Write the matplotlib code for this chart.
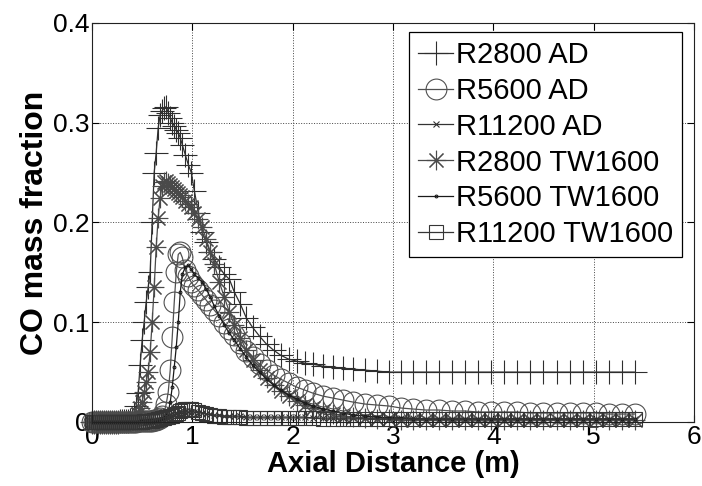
import matplotlib
matplotlib.use("Agg")
import matplotlib.pyplot as plt

plt.rcParams['font.family'] = ['Liberation Sans', 'DejaVu Sans']

# shared axial grid (m)
x_axial = [0.00, 0.02, 0.04, 0.06, 0.08, 0.10, 0.12, 0.14, 0.16, 0.18,
           0.20, 0.22, 0.24, 0.26, 0.28, 0.30, 0.32, 0.34, 0.36, 0.38,
           0.40, 0.42, 0.44, 0.46, 0.48, 0.50, 0.52, 0.54, 0.56, 0.58,
           0.60, 0.62, 0.64, 0.66, 0.68, 0.70, 0.72, 0.74, 0.76, 0.78,
           0.80, 0.82, 0.84, 0.86, 0.88, 0.90, 0.93, 0.96, 0.99, 1.02,
           1.06, 1.10, 1.14, 1.18, 1.22, 1.27, 1.32, 1.37, 1.42, 1.48,
           1.54, 1.60, 1.67, 1.74, 1.81, 1.88, 1.96, 2.04, 2.12, 2.20,
           2.30, 2.40, 2.50, 2.60, 2.72, 2.84, 2.96, 3.08, 3.20, 3.33,
           3.46, 3.59, 3.72, 3.85, 3.98, 4.11, 4.24, 4.37, 4.50, 4.63,
           4.76, 4.89, 5.02, 5.15, 5.28, 5.41]

r2800_ad = [0.000, 0.000, 0.000, 0.000, 0.000, 0.000, 0.000, 0.000, 0.000, 0.000,
            0.000, 0.000, 0.000, 0.000, 0.001, 0.001, 0.001, 0.001, 0.001, 0.002,
            0.003, 0.008, 0.016, 0.029, 0.057, 0.082, 0.100, 0.120, 0.135, 0.150,
            0.200, 0.250, 0.270, 0.295, 0.308, 0.312, 0.315, 0.316, 0.310, 0.305,
            0.300, 0.297, 0.293, 0.290, 0.285, 0.278, 0.268, 0.258, 0.250, 0.232,
            0.210, 0.190, 0.180, 0.170, 0.163, 0.155, 0.148, 0.143, 0.130, 0.118,
            0.104, 0.095, 0.086, 0.078, 0.072, 0.067, 0.063, 0.061, 0.059, 0.058,
            0.056, 0.055, 0.054, 0.053, 0.052, 0.051, 0.050, 0.050, 0.050, 0.050,
            0.050, 0.050, 0.050, 0.050, 0.050, 0.050, 0.050, 0.050, 0.050, 0.050,
            0.050, 0.050, 0.050, 0.050, 0.050, 0.050]

r5600_ad = [0.000, 0.000, 0.000, 0.000, 0.000, 0.000, 0.000, 0.000, 0.000, 0.000,
            0.000, 0.000, 0.000, 0.000, 0.000, 0.000, 0.000, 0.000, 0.000, 0.000,
            0.000, 0.000, 0.000, 0.001, 0.001, 0.001, 0.001, 0.001, 0.001, 0.001,
            0.001, 0.002, 0.002, 0.003, 0.004, 0.006, 0.010, 0.018, 0.030, 0.052,
            0.085, 0.120, 0.150, 0.168, 0.170, 0.165, 0.152, 0.146, 0.140, 0.136,
            0.132, 0.127, 0.122, 0.117, 0.112, 0.106, 0.099, 0.093, 0.087, 0.079,
            0.071, 0.065, 0.058, 0.052, 0.047, 0.043, 0.039, 0.035, 0.032, 0.029,
            0.026, 0.024, 0.022, 0.020, 0.018, 0.017, 0.016, 0.014, 0.013, 0.012,
            0.012, 0.011, 0.011, 0.010, 0.010, 0.010, 0.010, 0.009, 0.009, 0.009,
            0.009, 0.009, 0.009, 0.008, 0.008, 0.008]

r11200_ad = [0.000, 0.000, 0.000, 0.000, 0.000, 0.000, 0.000, 0.000, 0.000, 0.000,
             0.000, 0.000, 0.000, 0.000, 0.000, 0.000, 0.000, 0.000, 0.000, 0.000,
             0.000, 0.000, 0.000, 0.000, 0.000, 0.000, 0.000, 0.000, 0.000, 0.001,
             0.001, 0.001, 0.001, 0.001, 0.002, 0.002, 0.002, 0.003, 0.004, 0.005,
             0.006, 0.007, 0.008, 0.008, 0.009, 0.009, 0.010, 0.010, 0.010, 0.010,
             0.009, 0.009, 0.008, 0.008, 0.007, 0.007, 0.006, 0.006, 0.006, 0.006,
             0.005, 0.005, 0.005, 0.005, 0.005, 0.005, 0.005, 0.005, 0.005, 0.004,
             0.004, 0.004, 0.004, 0.004, 0.004, 0.004, 0.004, 0.004, 0.004, 0.003,
             0.003, 0.003, 0.003, 0.003, 0.003, 0.003, 0.003, 0.003, 0.003, 0.003,
             0.003, 0.003, 0.003, 0.003, 0.003, 0.003]

r2800_tw1600 = [0.000, 0.000, 0.000, 0.000, 0.000, 0.000, 0.000, 0.000, 0.000, 0.000,
                0.000, 0.000, 0.000, 0.000, 0.000, 0.001, 0.001, 0.001, 0.001, 0.001,
                0.002, 0.003, 0.004, 0.008, 0.014, 0.020, 0.030, 0.040, 0.050, 0.070,
                0.100, 0.135, 0.175, 0.205, 0.225, 0.237, 0.241, 0.242, 0.240, 0.238,
                0.236, 0.234, 0.232, 0.230, 0.228, 0.226, 0.222, 0.219, 0.216, 0.210,
                0.203, 0.195, 0.183, 0.170, 0.158, 0.140, 0.125, 0.110, 0.097, 0.084,
                0.072, 0.062, 0.052, 0.044, 0.037, 0.031, 0.026, 0.021, 0.017, 0.014,
                0.011, 0.008, 0.006, 0.005, 0.004, 0.003, 0.003, 0.002, 0.002, 0.002,
                0.002, 0.002, 0.002, 0.002, 0.002, 0.002, 0.002, 0.002, 0.002, 0.002,
                0.002, 0.002, 0.002, 0.002, 0.002, 0.002]

r5600_tw1600 = [0.000, 0.000, 0.000, 0.000, 0.000, 0.000, 0.000, 0.000, 0.000, 0.000,
                0.000, 0.000, 0.000, 0.000, 0.000, 0.000, 0.000, 0.000, 0.000, 0.000,
                0.000, 0.000, 0.000, 0.000, 0.001, 0.001, 0.001, 0.001, 0.001, 0.001,
                0.001, 0.001, 0.002, 0.002, 0.003, 0.004, 0.005, 0.007, 0.010, 0.020,
                0.035, 0.055, 0.075, 0.100, 0.130, 0.148, 0.155, 0.157, 0.153, 0.148,
                0.144, 0.140, 0.133, 0.125, 0.116, 0.106, 0.097, 0.089, 0.082, 0.073,
                0.065, 0.057, 0.050, 0.043, 0.037, 0.032, 0.027, 0.023, 0.019, 0.016,
                0.013, 0.011, 0.009, 0.007, 0.006, 0.005, 0.004, 0.004, 0.003, 0.003,
                0.003, 0.003, 0.003, 0.003, 0.003, 0.003, 0.003, 0.003, 0.003, 0.003,
                0.003, 0.003, 0.003, 0.003, 0.003, 0.003]

r11200_tw1600 = [0.000, 0.000, 0.000, 0.000, 0.000, 0.000, 0.000, 0.000, 0.000, 0.000,
                 0.000, 0.000, 0.000, 0.000, 0.000, 0.000, 0.000, 0.000, 0.000, 0.000,
                 0.000, 0.000, 0.000, 0.000, 0.000, 0.000, 0.001, 0.001, 0.001, 0.001,
                 0.001, 0.002, 0.002, 0.003, 0.003, 0.004, 0.004, 0.005, 0.005, 0.006,
                 0.006, 0.007, 0.008, 0.009, 0.011, 0.012, 0.013, 0.013, 0.013, 0.012,
                 0.010, 0.009, 0.008, 0.007, 0.006, 0.006, 0.005, 0.005, 0.005, 0.005,
                 0.004, 0.004, 0.004, 0.004, 0.004, 0.004, 0.004, 0.004, 0.004, 0.004,
                 0.003, 0.003, 0.003, 0.003, 0.003, 0.003, 0.003, 0.003, 0.003, 0.003,
                 0.003, 0.003, 0.003, 0.003, 0.003, 0.003, 0.003, 0.003, 0.003, 0.003,
                 0.003, 0.003, 0.003, 0.003, 0.003, 0.003]

labels = ['R2800 AD', 'R5600 AD', 'R11200 AD',
          'R2800 TW1600', 'R5600 TW1600', 'R11200 TW1600']
series = [r2800_ad, r5600_ad, r11200_ad, r2800_tw1600, r5600_tw1600, r11200_tw1600]
markers = ['+', 'o', 'x', (8, 2, 0), '.', 's']
msizes = [17, 15, 5, 14, 4, 10]
colors = ['#2e2e2e', '#505050', '#333333', '#4a4a4a', '#1a1a1a', '#353535']

fig = plt.figure(figsize=(7.02, 4.86), dpi=100)
ax = fig.add_axes([0.131, 0.1317, 0.8576, 0.821])

for y, lab, m, ms, c in zip(series, labels, markers, msizes, colors):
    ax.plot(x_axial, y, marker=m, markersize=ms, color=c, linewidth=0.9,
            markerfacecolor='none', markeredgecolor=c, markeredgewidth=0.8,
            label=lab, clip_on=False)

ax.set_xlim(0, 6)
ax.set_ylim(0, 0.4)
ax.set_xticks([0, 1, 2, 3, 4, 5, 6])
ax.set_yticks([0, 0.1, 0.2, 0.3, 0.4])
ax.set_xticklabels(['0', '1', '2', '3', '4', '5', '6'])
ax.set_yticklabels(['0', '0.1', '0.2', '0.3', '0.4'])
ax.tick_params(direction='in', length=5, width=0.8, top=True, right=True,
               labelsize=19, pad=2, colors='black')
ax.grid(True, linestyle=':', linewidth=0.7, color='#444444')
for s in ax.spines.values():
    s.set_linewidth(0.8)
    s.set_color('#222222')

ax.set_xlabel('Axial Distance (m)', fontsize=21, fontweight='bold', labelpad=1)
ax.set_ylabel('CO mass fraction', fontsize=23, fontweight='bold', labelpad=2)

leg = ax.legend(loc='upper right', bbox_to_anchor=(0.98, 0.977), fontsize=21,
                frameon=True, fancybox=False, shadow=False, framealpha=1,
                edgecolor='black', handlelength=1.2, handletextpad=0.1,
                labelspacing=0.27, borderpad=0.3, borderaxespad=0.0)
leg.get_frame().set_linewidth(0.9)

fig.savefig('out.png', dpi=100)
